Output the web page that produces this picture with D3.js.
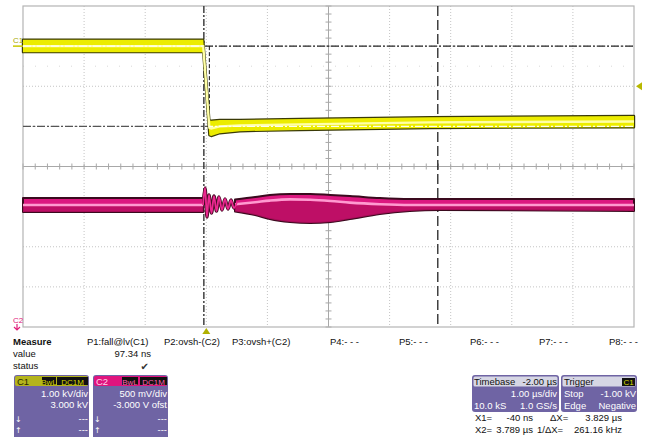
<!DOCTYPE html>
<html><head><meta charset="utf-8">
<script src="https://cdn.jsdelivr.net/npm/d3@7"></script>
<style>body{margin:0;background:#fff}svg{display:block;font-family:"Liberation Sans",Arial,sans-serif}</style>
</head><body><svg id="c" width="648" height="437"></svg>
<script>
// ---- data ----
const timeTicks = [-3,-2,-1,0,1,2,3,4,5,6,7];          // µs (1 µs/div)
const c1Ticks = [-7,-6,-5,-4,-3,-2,-1,0,1];             // kV (1 kV/div)
// C1 envelope (kV)
const c1Time = [-3, -0.05, 0.05, 0.08, 0.22, 0.55, 1.53, 3.66, 7];
const c1Hi   = [0.16, 0.16, -1.85, -1.86, -1.84, -1.84, -1.815, -1.77, -1.74];
const c1Lo   = [-0.15, -0.15, -2.22, -2.24, -2.17, -2.12, -2.09, -2.04, -2.02];
const c1Mid  = [0, 0, -2.03, -2.05, -2.0, -1.98, -1.95, -1.9, -1.88];
// C2 envelope (V)
const c2Time = [-3, -0.05, 0.2, 0.47, 0.8, 1.04, 1.37, 1.7, 2.03, 2.35, 2.84, 3.33, 3.82, 7];
const c2Hi   = [2.607, 2.607, null, 2.59, 2.62, 2.645, 2.657, 2.657, 2.645, 2.632, 2.607, 2.595, 2.595, 2.595];
const c2Lo   = [2.433, 2.433, null, 2.44, 2.395, 2.345, 2.308, 2.296, 2.308, 2.345, 2.408, 2.445, 2.458, 2.445];
const c2Mid  = [2.52, 2.52, null, 2.53, 2.555, 2.575, 2.59, 2.585, 2.57, 2.55, 2.53, 2.52, 2.52, 2.52];
// C2 ringing after the edge
const ringTime = [-0.054,-0.021,0.011,0.044,0.085,0.126,0.167,0.208,0.257,0.306,0.355,0.404,0.453,0.502];
const ringV    = [2.52,2.732,2.370,2.645,2.420,2.632,2.445,2.620,2.458,2.595,2.470,2.582,2.483,2.557];
// cursors
const x1Time = -0.04, x2Time = 3.789;
const levelHigh = 0, levelLow = -2.0, trigLevel = -1.0, trigTime = 0;
// measurement texts
const measLabels = ["P1:fall@lv(C1)","P2:ovsh-(C2)","P3:ovsh+(C2)","P4:- - -","P5:- - -","P6:- - -","P7:- - -","P8:- - -"];
const measValues = ["97.34 ns"];

// ---- scales ----
const X0 = 23, X1 = 634, Y0 = 6, Y1 = 327;
const x = d3.scaleLinear().domain([-3,7]).range([X0,X1]);
const y1 = d3.scaleLinear().domain([-7,1]).range([Y1,Y0]);
const y2 = d3.scaleLinear().domain([1,5]).range([Y1,Y0]);

const svg = d3.select("#c");
const g = svg.append("g");

// ---- grid ----
const xm = x(2), ym = y1(-3);
timeTicks.slice(1,-1).forEach(t=>{
  if (t===2) return;
  g.append("line").attr("x1",x(t)).attr("x2",x(t)).attr("y1",Y0).attr("y2",Y1)
   .attr("stroke","#c4c4c4").attr("stroke-dasharray","1,2");
});
c1Ticks.slice(1,-1).forEach(v=>{
  if (v===-3) return;
  g.append("line").attr("x1",X0).attr("x2",X1).attr("y1",y1(v)).attr("y2",y1(v))
   .attr("stroke","#c4c4c4").attr("stroke-dasharray","1,2");
});
// faint dotted row
g.append("line").attr("x1",X0).attr("x2",X1).attr("y1",y1(-0.5)).attr("y2",y1(-0.5))
 .attr("stroke","#d8d8d8").attr("stroke-dasharray","1,11");
// centre cross with minor ticks
g.append("line").attr("x1",X0).attr("x2",X1).attr("y1",ym).attr("y2",ym).attr("stroke","#a8a8a8");
g.append("line").attr("x1",xm).attr("x2",xm).attr("y1",Y0).attr("y2",Y1).attr("stroke","#a8a8a8");
d3.range(-3,7.01,0.2).forEach(t=>{
  g.append("line").attr("x1",x(t)).attr("x2",x(t)).attr("y1",ym-3).attr("y2",ym+3).attr("stroke","#a8a8a8");
});
d3.range(-7,1.01,0.2).forEach(v=>{
  g.append("line").attr("x1",xm-3).attr("x2",xm+3).attr("y1",y1(v)).attr("y2",y1(v)).attr("stroke","#a8a8a8");
});
g.append("rect").attr("x",X0).attr("y",Y0).attr("width",X1-X0).attr("height",Y1-Y0)
 .attr("fill","none").attr("stroke","#b4b4b4").attr("stroke-width",1.2);

// ---- cursors (under traces) ----
function hline(v,col,dash,xa,xb){
  g.append("line").attr("x1",xa).attr("x2",xb).attr("y1",y1(v)).attr("y2",y1(v))
   .attr("stroke",col).attr("stroke-width",1.2).attr("stroke-dasharray",dash);
}
hline(levelHigh,"#222","8,2,2,2",X0,X1);
hline(levelLow,"#555","8,2,2,2",X0,X1);
g.append("line").attr("x1",x(x1Time)).attr("x2",x(x1Time)).attr("y1",Y0).attr("y2",Y1)
 .attr("stroke","#333").attr("stroke-width",1.4).attr("stroke-dasharray","7,2,2,2");
g.append("line").attr("x1",x(x2Time)).attr("x2",x(x2Time)).attr("y1",Y0).attr("y2",Y1)
 .attr("stroke","#111").attr("stroke-width",1.2).attr("stroke-dasharray","10,4");
g.append("line").attr("x1",x(0.05)).attr("x2",x(0.05)).attr("y1",y1(levelHigh)).attr("y2",y1(levelLow))
 .attr("stroke","#111").attr("stroke-width",1).attr("stroke-dasharray","4,2");

// ---- traces ----
const c1 = c1Time.map((t,i)=>({t,hi:c1Hi[i],lo:c1Lo[i],mid:c1Mid[i]}));
const c2 = c2Time.map((t,i)=>({t,hi:c2Hi[i],lo:c2Lo[i],mid:c2Mid[i]}));
const ring = ringTime.map((t,i)=>({t,v:ringV[i]}));

const c1Area = d3.area().x(d=>x(d.t)).y0(d=>y1(d.lo)).y1(d=>y1(d.hi));
const c1MidL = d3.line().x(d=>x(d.t)).y(d=>y1(d.mid));
const c2Area = d3.area().defined(d=>d.hi!=null).x(d=>x(d.t)).y0(d=>y2(d.lo)).y1(d=>y2(d.hi)).curve(d3.curveMonotoneX);
const c2Low = d3.area().defined(d=>d.hi!=null).x(d=>x(d.t)).y0(d=>y2(d.lo)).y1(d=>y2(d.mid)).curve(d3.curveMonotoneX);
const c2MidL = d3.line().defined(d=>d.hi!=null).x(d=>x(d.t)).y(d=>y2(d.mid)).curve(d3.curveMonotoneX);
const ringL = d3.line().x(d=>x(d.t)).y(d=>y2(d.v)).curve(d3.curveCatmullRom);

// C1
g.append("path").attr("d",c1Area(c1)).attr("fill","#e4e400").attr("stroke","#3a3a06").attr("stroke-width",2.4).attr("stroke-linejoin","round");
g.append("path").attr("d",c1Area(c1)).attr("fill","#ecec00");
g.append("path").attr("d",c1MidL(c1)).attr("fill","none").attr("stroke","#ffffa8").attr("stroke-width",2.4);
const defs = svg.append("defs");
defs.append("clipPath").attr("id","c1clip").append("path").attr("d",c1Area(c1));
[levelHigh,levelLow].forEach(v=>{
  g.append("line").attr("clip-path","url(#c1clip)").attr("x1",X0).attr("x2",X1).attr("y1",y1(v)).attr("y2",y1(v))
   .attr("stroke","#fffff0").attr("stroke-width",1.3).attr("stroke-dasharray","8,2,2,2");
});

// C2
g.append("path").attr("d",ringL(ring)).attr("fill","none").attr("stroke","#4a0c26").attr("stroke-width",3.4).attr("stroke-linejoin","round");
g.append("path").attr("d",c2Area(c2)).attr("fill","#dc1880").attr("stroke","#3a0a1e").attr("stroke-width",2).attr("stroke-linejoin","round");
g.append("path").attr("d",c2Low(c2)).attr("fill","#b80e62").attr("opacity",0.85);
g.append("path").attr("d",c2MidL(c2)).attr("fill","none").attr("stroke","#ff9ad0").attr("stroke-width",2.6);
g.append("path").attr("d",ringL(ring)).attr("fill","none").attr("stroke","#ec2890").attr("stroke-width",1.8).attr("stroke-linejoin","round");

// ---- markers ----
svg.append("text").attr("x",13).attr("y",43).attr("font-size",8).attr("fill","#a8a800").text("C1");
svg.append("line").attr("x1",13).attr("x2",X0).attr("y1",y1(0)).attr("y2",y1(0)).attr("stroke","#c8c800").attr("stroke-width",1.5);
svg.append("path").attr("d",`M${X1+2},${y1(trigLevel)} l6,-4 v8 z`).attr("fill","#b8b800");
svg.append("path").attr("d",`M${x(trigTime)},${Y1+1} l4,6 h-8 z`).attr("fill","#b0b000");
svg.append("text").attr("x",13).attr("y",323).attr("font-size",8).attr("fill","#e0207a").text("C2");
svg.append("path").attr("d","M17,324 v5 M14,327 l3,3 l3,-3").attr("stroke","#e0207a").attr("fill","none").attr("stroke-width",1.2);

// ---- measure panel ----
const T = (s,xx,yy,o={})=>{
  const t = svg.append("text").attr("x",xx).attr("y",yy).attr("font-size",o.size||9.5)
    .attr("fill",o.fill||"#111").attr("text-anchor",o.anchor||"start").text(s);
  if(o.bold) t.attr("font-weight","bold");
  if(o.family) t.attr("font-family",o.family);
  return t;
};
T("Measure",13,345,{bold:true});
T("value",13,357); T("status",13,369);
const measX = [87,164,232,330,399,470,539,609];
measLabels.forEach((s,i)=>T(s,measX[i],345));
T(measValues[0],151,357,{anchor:"end"});
T("✔",149,370,{anchor:"end",family:"DejaVu Sans",size:10,fill:"#333"});

// channel boxes
function box(xx,w,hdr,hdrText,hdrTextCol){
  svg.append("rect").attr("x",xx).attr("y",375).attr("width",w).attr("height",70).attr("rx",3).attr("fill","#6f64a4");
  svg.append("rect").attr("x",xx+1).attr("y",376).attr("width",w-2).attr("height",10).attr("rx",2).attr("fill",hdr);
  T(hdrText,xx+3,385,{fill:hdrTextCol,size:9.5});
}
function badge(xx,w,s,col){
  svg.append("rect").attr("x",xx).attr("y",377).attr("width",w).attr("height",8).attr("fill","#111");
  T(s,xx+w/2,384.5,{anchor:"middle",size:8,fill:col});
}
box(14,75,"#b4b41c","C1","#2a2a00");
badge(42,14,"BwL","#d8d800"); badge(57,31,"DC1M","#d8d800");
T("1.00 kV/div",88,397,{anchor:"end",fill:"#fff"});
T("3.000 kV",88,408,{anchor:"end",fill:"#fff"});
T("↓",15,422,{fill:"#fff",family:"DejaVu Sans",size:8}); T("---",88,422,{anchor:"end",fill:"#fff"});
T("↑",15,433,{fill:"#fff",family:"DejaVu Sans",size:8}); T("---",88,433,{anchor:"end",fill:"#fff"});

box(93,75,"#e0147e","C2","#ffd4ea");
badge(122,16,"BwL","#ff60b0"); badge(140,27,"DC1M","#ff60b0");
T("500 mV/div",167,397,{anchor:"end",fill:"#fff"});
T("-3.000 V ofst",167,408,{anchor:"end",fill:"#fff"});
T("↓",94,422,{fill:"#fff",family:"DejaVu Sans",size:8}); T("---",167,422,{anchor:"end",fill:"#fff"});
T("↑",94,433,{fill:"#fff",family:"DejaVu Sans",size:8}); T("---",167,433,{anchor:"end",fill:"#fff"});

// timebase / trigger
function box2(xx,w){
  svg.append("rect").attr("x",xx).attr("y",375).attr("width",w).attr("height",37).attr("rx",3).attr("fill","#6f64a4");
  svg.append("rect").attr("x",xx+1.5).attr("y",376.5).attr("width",w-3).attr("height",10).attr("rx",1.5).attr("fill","#d6d6e4");
}
box2(472,87);
T("Timebase",474,385,{fill:"#111"}); T("-2.00 µs",557,385,{anchor:"end",fill:"#111"});
T("1.00 µs/div",557,397,{anchor:"end",fill:"#fff"});
T("10.0 kS",474,409,{fill:"#fff"}); T("1.0 GS/s",557,409,{anchor:"end",fill:"#fff"});
box2(561,76);
T("Trigger",564,385,{fill:"#111"});
svg.append("rect").attr("x",622).attr("y",378).attr("width",13).attr("height",8).attr("fill","#111");
T("C1",628.5,385,{anchor:"middle",size:8,fill:"#d8d800"});
T("Stop",564,397,{fill:"#fff"}); T("-1.00 kV",636,397,{anchor:"end",fill:"#fff"});
T("Edge",564,409,{fill:"#fff"}); T("Negative",636,409,{anchor:"end",fill:"#fff"});

// cursor readout
T("X1=",475,421); T("-40 ns",533,421,{anchor:"end"}); T("ΔX=",550,421); T("3.829 µs",622,421,{anchor:"end"});
T("X2=",475,433); T("3.789 µs",533,433,{anchor:"end"}); T("1/ΔX=",537,433); T("261.16 kHz",622,433,{anchor:"end"});
</script></body></html>
